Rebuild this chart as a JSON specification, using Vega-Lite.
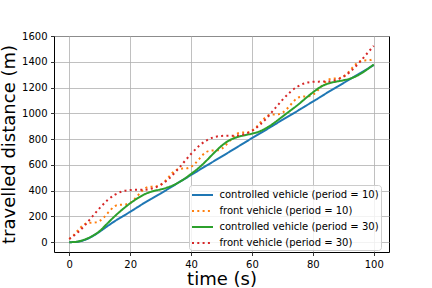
{
  "$schema": "https://vega.github.io/schema/vega-lite/v6.json",
  "width": 335,
  "height": 216,
  "autosize": {"type": "none"},
  "padding": {"left": 54, "top": 36, "right": 43, "bottom": 36},
  "background": "white",
  "config": {
    "view": {"stroke": "black", "strokeWidth": 1},
    "font": "DejaVu Sans",
    "axis": {
      "domain": false,
      "grid": true,
      "gridColor": "#b0b0b0",
      "gridWidth": 0.8,
      "tickColor": "black",
      "tickSize": 3.5,
      "tickWidth": 0.8,
      "labelFont": "DejaVu Sans",
      "labelFontSize": 10,
      "labelColor": "black",
      "labelPadding": 3.5,
      "titleFont": "DejaVu Sans",
      "titleFontSize": 18,
      "titleFontWeight": "normal",
      "titleColor": "black"
    },
    "legend": {
      "orient": "none",
      "legendX": 135,
      "legendY": 149,
      "fillColor": "rgba(255,255,255,0.8)",
      "strokeColor": "#cccccc",
      "cornerRadius": 3,
      "padding": 2,
      "symbolType": "M-1.5,0H1.5",
      "symbolSize": 196,
      "symbolOffset": 3.5,
      "symbolStrokeWidth": 2,
      "labelFont": "DejaVu Sans",
      "labelFontSize": 10,
      "labelColor": "black",
      "labelOffset": 9,
      "rowPadding": 3
    }
  },
  "data": {
    "values": [
      {"series": "controlled vehicle (period = 10)", "t": 0, "d": 0},
      {"series": "controlled vehicle (period = 10)", "t": 2.5, "d": 3},
      {"series": "controlled vehicle (period = 10)", "t": 5, "d": 17},
      {"series": "controlled vehicle (period = 10)", "t": 7.5, "d": 44},
      {"series": "controlled vehicle (period = 10)", "t": 10, "d": 82},
      {"series": "controlled vehicle (period = 10)", "t": 12.5, "d": 124},
      {"series": "controlled vehicle (period = 10)", "t": 15, "d": 164},
      {"series": "controlled vehicle (period = 10)", "t": 17.5, "d": 200},
      {"series": "controlled vehicle (period = 10)", "t": 20, "d": 236},
      {"series": "controlled vehicle (period = 10)", "t": 22.5, "d": 273},
      {"series": "controlled vehicle (period = 10)", "t": 25, "d": 310},
      {"series": "controlled vehicle (period = 10)", "t": 27.5, "d": 344},
      {"series": "controlled vehicle (period = 10)", "t": 30, "d": 378},
      {"series": "controlled vehicle (period = 10)", "t": 32.5, "d": 414},
      {"series": "controlled vehicle (period = 10)", "t": 35, "d": 450},
      {"series": "controlled vehicle (period = 10)", "t": 37.5, "d": 486},
      {"series": "controlled vehicle (period = 10)", "t": 40, "d": 522},
      {"series": "controlled vehicle (period = 10)", "t": 42.5, "d": 558},
      {"series": "controlled vehicle (period = 10)", "t": 45, "d": 594},
      {"series": "controlled vehicle (period = 10)", "t": 47.5, "d": 629},
      {"series": "controlled vehicle (period = 10)", "t": 50, "d": 664},
      {"series": "controlled vehicle (period = 10)", "t": 52.5, "d": 700},
      {"series": "controlled vehicle (period = 10)", "t": 55, "d": 736},
      {"series": "controlled vehicle (period = 10)", "t": 57.5, "d": 772},
      {"series": "controlled vehicle (period = 10)", "t": 60, "d": 808},
      {"series": "controlled vehicle (period = 10)", "t": 62.5, "d": 843},
      {"series": "controlled vehicle (period = 10)", "t": 65, "d": 878},
      {"series": "controlled vehicle (period = 10)", "t": 67.5, "d": 914},
      {"series": "controlled vehicle (period = 10)", "t": 70, "d": 950},
      {"series": "controlled vehicle (period = 10)", "t": 72.5, "d": 985},
      {"series": "controlled vehicle (period = 10)", "t": 75, "d": 1020},
      {"series": "controlled vehicle (period = 10)", "t": 77.5, "d": 1056},
      {"series": "controlled vehicle (period = 10)", "t": 80, "d": 1092},
      {"series": "controlled vehicle (period = 10)", "t": 82.5, "d": 1128},
      {"series": "controlled vehicle (period = 10)", "t": 85, "d": 1165},
      {"series": "controlled vehicle (period = 10)", "t": 87.5, "d": 1200},
      {"series": "controlled vehicle (period = 10)", "t": 90, "d": 1235},
      {"series": "controlled vehicle (period = 10)", "t": 92.5, "d": 1270},
      {"series": "controlled vehicle (period = 10)", "t": 95, "d": 1305},
      {"series": "controlled vehicle (period = 10)", "t": 97.5, "d": 1340},
      {"series": "controlled vehicle (period = 10)", "t": 100, "d": 1375},

      {"series": "front vehicle (period = 10)", "t": 0, "d": 25},
      {"series": "front vehicle (period = 10)", "t": 1.25, "d": 49},
      {"series": "front vehicle (period = 10)", "t": 2.5, "d": 82},
      {"series": "front vehicle (period = 10)", "t": 3.75, "d": 115},
      {"series": "front vehicle (period = 10)", "t": 5, "d": 140},
      {"series": "front vehicle (period = 10)", "t": 6.25, "d": 150},
      {"series": "front vehicle (period = 10)", "t": 7.5, "d": 152},
      {"series": "front vehicle (period = 10)", "t": 8.75, "d": 154},
      {"series": "front vehicle (period = 10)", "t": 10, "d": 165},
      {"series": "front vehicle (period = 10)", "t": 11.25, "d": 189},
      {"series": "front vehicle (period = 10)", "t": 12.5, "d": 222},
      {"series": "front vehicle (period = 10)", "t": 13.75, "d": 255},
      {"series": "front vehicle (period = 10)", "t": 15, "d": 280},
      {"series": "front vehicle (period = 10)", "t": 16.25, "d": 290},
      {"series": "front vehicle (period = 10)", "t": 17.5, "d": 292},
      {"series": "front vehicle (period = 10)", "t": 18.75, "d": 294},
      {"series": "front vehicle (period = 10)", "t": 20, "d": 305},
      {"series": "front vehicle (period = 10)", "t": 21.25, "d": 329},
      {"series": "front vehicle (period = 10)", "t": 22.5, "d": 362},
      {"series": "front vehicle (period = 10)", "t": 23.75, "d": 395},
      {"series": "front vehicle (period = 10)", "t": 25, "d": 420},
      {"series": "front vehicle (period = 10)", "t": 26.25, "d": 430},
      {"series": "front vehicle (period = 10)", "t": 27.5, "d": 432},
      {"series": "front vehicle (period = 10)", "t": 28.75, "d": 434},
      {"series": "front vehicle (period = 10)", "t": 30, "d": 445},
      {"series": "front vehicle (period = 10)", "t": 31.25, "d": 469},
      {"series": "front vehicle (period = 10)", "t": 32.5, "d": 502},
      {"series": "front vehicle (period = 10)", "t": 33.75, "d": 535},
      {"series": "front vehicle (period = 10)", "t": 35, "d": 560},
      {"series": "front vehicle (period = 10)", "t": 36.25, "d": 570},
      {"series": "front vehicle (period = 10)", "t": 37.5, "d": 572},
      {"series": "front vehicle (period = 10)", "t": 38.75, "d": 574},
      {"series": "front vehicle (period = 10)", "t": 40, "d": 585},
      {"series": "front vehicle (period = 10)", "t": 41.25, "d": 609},
      {"series": "front vehicle (period = 10)", "t": 42.5, "d": 642},
      {"series": "front vehicle (period = 10)", "t": 43.75, "d": 675},
      {"series": "front vehicle (period = 10)", "t": 45, "d": 700},
      {"series": "front vehicle (period = 10)", "t": 46.25, "d": 710},
      {"series": "front vehicle (period = 10)", "t": 47.5, "d": 712},
      {"series": "front vehicle (period = 10)", "t": 48.75, "d": 714},
      {"series": "front vehicle (period = 10)", "t": 50, "d": 725},
      {"series": "front vehicle (period = 10)", "t": 51.25, "d": 749},
      {"series": "front vehicle (period = 10)", "t": 52.5, "d": 782},
      {"series": "front vehicle (period = 10)", "t": 53.75, "d": 815},
      {"series": "front vehicle (period = 10)", "t": 55, "d": 840},
      {"series": "front vehicle (period = 10)", "t": 56.25, "d": 850},
      {"series": "front vehicle (period = 10)", "t": 57.5, "d": 852},
      {"series": "front vehicle (period = 10)", "t": 58.75, "d": 854},
      {"series": "front vehicle (period = 10)", "t": 60, "d": 865},
      {"series": "front vehicle (period = 10)", "t": 61.25, "d": 889},
      {"series": "front vehicle (period = 10)", "t": 62.5, "d": 922},
      {"series": "front vehicle (period = 10)", "t": 63.75, "d": 955},
      {"series": "front vehicle (period = 10)", "t": 65, "d": 980},
      {"series": "front vehicle (period = 10)", "t": 66.25, "d": 990},
      {"series": "front vehicle (period = 10)", "t": 67.5, "d": 992},
      {"series": "front vehicle (period = 10)", "t": 68.75, "d": 994},
      {"series": "front vehicle (period = 10)", "t": 70, "d": 1005},
      {"series": "front vehicle (period = 10)", "t": 71.25, "d": 1029},
      {"series": "front vehicle (period = 10)", "t": 72.5, "d": 1062},
      {"series": "front vehicle (period = 10)", "t": 73.75, "d": 1095},
      {"series": "front vehicle (period = 10)", "t": 75, "d": 1120},
      {"series": "front vehicle (period = 10)", "t": 76.25, "d": 1130},
      {"series": "front vehicle (period = 10)", "t": 77.5, "d": 1132},
      {"series": "front vehicle (period = 10)", "t": 78.75, "d": 1134},
      {"series": "front vehicle (period = 10)", "t": 80, "d": 1145},
      {"series": "front vehicle (period = 10)", "t": 81.25, "d": 1169},
      {"series": "front vehicle (period = 10)", "t": 82.5, "d": 1202},
      {"series": "front vehicle (period = 10)", "t": 83.75, "d": 1235},
      {"series": "front vehicle (period = 10)", "t": 85, "d": 1260},
      {"series": "front vehicle (period = 10)", "t": 86.25, "d": 1270},
      {"series": "front vehicle (period = 10)", "t": 87.5, "d": 1272},
      {"series": "front vehicle (period = 10)", "t": 88.75, "d": 1274},
      {"series": "front vehicle (period = 10)", "t": 90, "d": 1285},
      {"series": "front vehicle (period = 10)", "t": 91.25, "d": 1309},
      {"series": "front vehicle (period = 10)", "t": 92.5, "d": 1342},
      {"series": "front vehicle (period = 10)", "t": 93.75, "d": 1375},
      {"series": "front vehicle (period = 10)", "t": 95, "d": 1400},
      {"series": "front vehicle (period = 10)", "t": 96.25, "d": 1410},
      {"series": "front vehicle (period = 10)", "t": 97.5, "d": 1412},
      {"series": "front vehicle (period = 10)", "t": 98.75, "d": 1414},
      {"series": "front vehicle (period = 10)", "t": 100, "d": 1425},

      {"series": "controlled vehicle (period = 30)", "t": 0, "d": 0},
      {"series": "controlled vehicle (period = 30)", "t": 2.5, "d": 4},
      {"series": "controlled vehicle (period = 30)", "t": 5, "d": 20},
      {"series": "controlled vehicle (period = 30)", "t": 7.5, "d": 47},
      {"series": "controlled vehicle (period = 30)", "t": 10, "d": 86},
      {"series": "controlled vehicle (period = 30)", "t": 12.5, "d": 145},
      {"series": "controlled vehicle (period = 30)", "t": 15, "d": 203},
      {"series": "controlled vehicle (period = 30)", "t": 17.5, "d": 255},
      {"series": "controlled vehicle (period = 30)", "t": 20, "d": 302},
      {"series": "controlled vehicle (period = 30)", "t": 22.5, "d": 342},
      {"series": "controlled vehicle (period = 30)", "t": 25, "d": 375},
      {"series": "controlled vehicle (period = 30)", "t": 27.5, "d": 396},
      {"series": "controlled vehicle (period = 30)", "t": 30, "d": 410},
      {"series": "controlled vehicle (period = 30)", "t": 32.5, "d": 427},
      {"series": "controlled vehicle (period = 30)", "t": 35, "d": 452},
      {"series": "controlled vehicle (period = 30)", "t": 37.5, "d": 487},
      {"series": "controlled vehicle (period = 30)", "t": 40, "d": 530},
      {"series": "controlled vehicle (period = 30)", "t": 42.5, "d": 577},
      {"series": "controlled vehicle (period = 30)", "t": 45, "d": 632},
      {"series": "controlled vehicle (period = 30)", "t": 47.5, "d": 692},
      {"series": "controlled vehicle (period = 30)", "t": 50, "d": 748},
      {"series": "controlled vehicle (period = 30)", "t": 52.5, "d": 790},
      {"series": "controlled vehicle (period = 30)", "t": 55, "d": 815},
      {"series": "controlled vehicle (period = 30)", "t": 57.5, "d": 830},
      {"series": "controlled vehicle (period = 30)", "t": 60, "d": 843},
      {"series": "controlled vehicle (period = 30)", "t": 62.5, "d": 860},
      {"series": "controlled vehicle (period = 30)", "t": 65, "d": 890},
      {"series": "controlled vehicle (period = 30)", "t": 67.5, "d": 930},
      {"series": "controlled vehicle (period = 30)", "t": 70, "d": 975},
      {"series": "controlled vehicle (period = 30)", "t": 72.5, "d": 1020},
      {"series": "controlled vehicle (period = 30)", "t": 75, "d": 1065},
      {"series": "controlled vehicle (period = 30)", "t": 77.5, "d": 1115},
      {"series": "controlled vehicle (period = 30)", "t": 80, "d": 1163},
      {"series": "controlled vehicle (period = 30)", "t": 82.5, "d": 1205},
      {"series": "controlled vehicle (period = 30)", "t": 85, "d": 1232},
      {"series": "controlled vehicle (period = 30)", "t": 87.5, "d": 1246},
      {"series": "controlled vehicle (period = 30)", "t": 90, "d": 1257},
      {"series": "controlled vehicle (period = 30)", "t": 92.5, "d": 1272},
      {"series": "controlled vehicle (period = 30)", "t": 95, "d": 1298},
      {"series": "controlled vehicle (period = 30)", "t": 97.5, "d": 1336},
      {"series": "controlled vehicle (period = 30)", "t": 100, "d": 1380},

      {"series": "front vehicle (period = 30)", "t": 0, "d": 25},
      {"series": "front vehicle (period = 30)", "t": 2.5, "d": 69},
      {"series": "front vehicle (period = 30)", "t": 5, "d": 128},
      {"series": "front vehicle (period = 30)", "t": 7.5, "d": 197},
      {"series": "front vehicle (period = 30)", "t": 10, "d": 265},
      {"series": "front vehicle (period = 30)", "t": 12.5, "d": 325},
      {"series": "front vehicle (period = 30)", "t": 15, "d": 369},
      {"series": "front vehicle (period = 30)", "t": 17.5, "d": 395},
      {"series": "front vehicle (period = 30)", "t": 20, "d": 405},
      {"series": "front vehicle (period = 30)", "t": 22.5, "d": 407},
      {"series": "front vehicle (period = 30)", "t": 25, "d": 408},
      {"series": "front vehicle (period = 30)", "t": 27.5, "d": 419},
      {"series": "front vehicle (period = 30)", "t": 30, "d": 445},
      {"series": "front vehicle (period = 30)", "t": 32.5, "d": 489},
      {"series": "front vehicle (period = 30)", "t": 35, "d": 548},
      {"series": "front vehicle (period = 30)", "t": 37.5, "d": 617},
      {"series": "front vehicle (period = 30)", "t": 40, "d": 685},
      {"series": "front vehicle (period = 30)", "t": 42.5, "d": 745},
      {"series": "front vehicle (period = 30)", "t": 45, "d": 789},
      {"series": "front vehicle (period = 30)", "t": 47.5, "d": 815},
      {"series": "front vehicle (period = 30)", "t": 50, "d": 825},
      {"series": "front vehicle (period = 30)", "t": 52.5, "d": 827},
      {"series": "front vehicle (period = 30)", "t": 55, "d": 828},
      {"series": "front vehicle (period = 30)", "t": 57.5, "d": 839},
      {"series": "front vehicle (period = 30)", "t": 60, "d": 865},
      {"series": "front vehicle (period = 30)", "t": 62.5, "d": 909},
      {"series": "front vehicle (period = 30)", "t": 65, "d": 968},
      {"series": "front vehicle (period = 30)", "t": 67.5, "d": 1037},
      {"series": "front vehicle (period = 30)", "t": 70, "d": 1105},
      {"series": "front vehicle (period = 30)", "t": 72.5, "d": 1165},
      {"series": "front vehicle (period = 30)", "t": 75, "d": 1209},
      {"series": "front vehicle (period = 30)", "t": 77.5, "d": 1235},
      {"series": "front vehicle (period = 30)", "t": 80, "d": 1245},
      {"series": "front vehicle (period = 30)", "t": 82.5, "d": 1247},
      {"series": "front vehicle (period = 30)", "t": 85, "d": 1248},
      {"series": "front vehicle (period = 30)", "t": 87.5, "d": 1259},
      {"series": "front vehicle (period = 30)", "t": 90, "d": 1285},
      {"series": "front vehicle (period = 30)", "t": 92.5, "d": 1329},
      {"series": "front vehicle (period = 30)", "t": 95, "d": 1388},
      {"series": "front vehicle (period = 30)", "t": 97.5, "d": 1457},
      {"series": "front vehicle (period = 30)", "t": 100, "d": 1525}
    ]
  },
  "mark": {"type": "line", "strokeWidth": 2, "interpolate": "monotone", "strokeCap": "butt"},
  "encoding": {
    "x": {
      "field": "t",
      "type": "quantitative",
      "scale": {"domain": [-5, 105], "nice": false, "zero": false},
      "axis": {"values": [0, 20, 40, 60, 80, 100], "format": "d", "title": "time (s)", "titlePadding": 1}
    },
    "y": {
      "field": "d",
      "type": "quantitative",
      "scale": {"domain": [-76, 1601], "nice": false, "zero": false},
      "axis": {"values": [0, 200, 400, 600, 800, 1000, 1200, 1400, 1600], "format": "d", "title": "travelled distance (m)", "titlePadding": 3}
    },
    "color": {
      "field": "series",
      "type": "nominal",
      "scale": {
        "domain": ["controlled vehicle (period = 10)", "front vehicle (period = 10)", "controlled vehicle (period = 30)", "front vehicle (period = 30)"],
        "range": ["#1f77b4", "#ff7f0e", "#2ca02c", "#d62728"]
      },
      "legend": {"title": null}
    },
    "strokeDash": {
      "field": "series",
      "type": "nominal",
      "scale": {
        "domain": ["controlled vehicle (period = 10)", "front vehicle (period = 10)", "controlled vehicle (period = 30)", "front vehicle (period = 30)"],
        "range": [[1, 0], [2, 3.3], [1, 0], [2, 3.3]]
      },
      "legend": {"title": null}
    }
  }
}
